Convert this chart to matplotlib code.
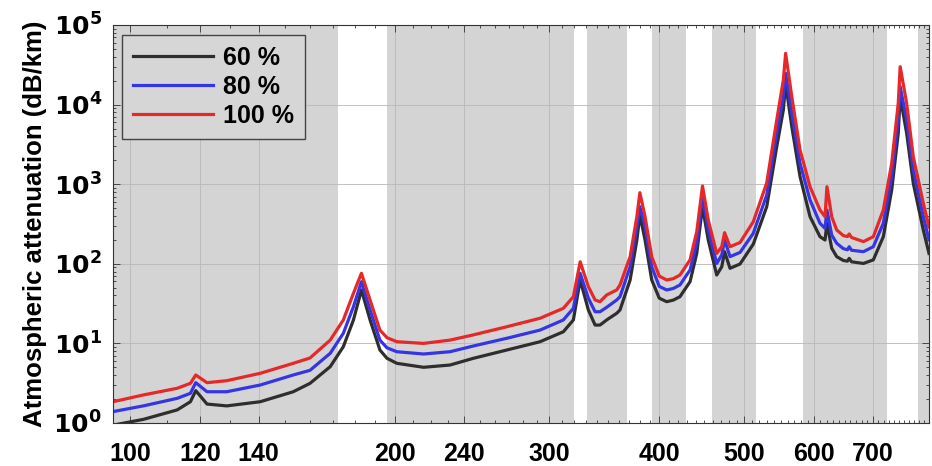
import matplotlib
matplotlib.use('Agg')
import matplotlib.pyplot as plt
from matplotlib.ticker import FixedLocator, NullFormatter, LogLocator

# frequency (GHz)
freq = [95.6, 103.5, 113.1, 117.1, 118.75, 122.3, 128.8, 140.6, 153.3, 160.2,
        168.9, 174.8, 179.5, 183.3, 187.5, 192.4, 196.0, 201.1, 215.7, 231.2, 245.8,
        268.3, 292.7, 311.1, 319.4, 325.15, 332.2, 338.1, 342.5, 348.5, 357.8,
        360.9, 370.6, 377.2, 380.2, 385.4, 392.2, 400.0, 407.9, 415.0, 422.3, 433.6, 441.3,
        448.0, 454.8, 465.0, 471.2, 474.7, 481.5, 494.3, 511.8, 530.1, 544.2,
        553.7, 557.0, 566.1, 578.5, 593.8, 609.5, 617.6, 620.7, 628.5, 636.8,
        648.0, 655.0, 658.0, 662.0, 682.9, 700.9, 719.5, 735.5, 748.2, 752.0,
        764.9, 778.3, 799.0, 811.0]

# attenuation (dB/km) for relative humidity 60 / 80 / 100 %
att_60 = [0.94, 1.11, 1.46, 1.85, 2.55, 1.73, 1.64, 1.85, 2.47, 3.15,
          5.10, 9.09, 19.7, 46.9, 19.7, 8.26, 6.5, 5.62, 5.01, 5.35, 6.50,
          8.26, 10.5, 14.0, 19.7, 62.6, 26.3, 17.0, 17.0, 19.7, 23.9,
          26.3, 62.6, 199, 410, 199, 62.6, 37.0, 33.4, 35.0, 38.6, 59.6, 135,
          522, 199, 72.3, 91.9, 142, 87.8, 99.4, 177, 522, 2958,
          8554, 18520, 5278, 1242, 391, 219, 199, 323, 157, 123,
          110, 108, 117, 106, 101, 112, 219, 846, 4360, 12570,
          4360, 1026, 266, 135]

att_80 = [1.39, 1.64, 2.04, 2.36, 3.21, 2.47, 2.47, 3.00, 4.01, 4.59,
          7.51, 13.4, 28.9, 59.6, 26.3, 11.0, 8.8, 7.86, 7.36, 7.86, 9.28,
          11.6, 14.7, 19.7, 27.6, 76.0, 36.9, 25.0, 25.0, 28.4, 35.1,
          38.6, 91.9, 292, 522, 292, 91.9, 52.0, 46.9, 49.0, 54.2, 83.6, 181,
          697, 266, 101, 129, 199, 123, 139, 242, 732, 4360,
          12570, 24740, 7775, 1831, 633, 323, 279, 474, 230, 181,
          155, 150, 164, 148, 142, 164, 323, 1242, 6404, 16790,
          6404, 1508, 391, 200]

att_100 = [1.85, 2.25, 2.73, 3.15, 4.01, 3.21, 3.40, 4.21, 5.62, 6.56,
           11.0, 19.7, 42.6, 76.0, 35.1, 14.7, 11.8, 10.5, 10.0, 11.0, 12.8,
           16.2, 20.7, 27.6, 38.6, 106, 51.6, 35.1, 33.4, 40.6, 46.9,
           54.2, 123, 391, 782, 391, 123, 70.0, 62.6, 65.0, 72.3, 112, 253,
           949, 355, 135, 164, 246, 164, 185, 338, 1036, 6404,
           20370, 44100, 12570, 2689, 930, 474, 391, 930, 391, 266,
           226, 220, 237, 214, 190, 219, 474, 1831, 10380, 29940,
           10380, 2216, 576, 290]

# shaded windows (GHz)
bands = [(95.6, 172.4), (196.1, 320.0), (331.1, 367.6), (392.6, 429.1),
         (459.3, 515.5), (583.1, 726.3), (788.0, 811.0)]

xticks = [100, 120, 140, 200, 240, 300, 400, 500, 600, 700]

plt.rcParams['font.family'] = ['Liberation Sans', 'DejaVu Sans']
plt.rcParams['font.weight'] = 'bold'

fig = plt.figure(figsize=(9.32, 4.66), dpi=100)
ax = fig.add_axes([113 / 932, 43 / 466, 816 / 932, 398 / 466])

for lo, hi in bands:
    ax.axvspan(lo, hi, color='#d4d4d4', lw=0, zorder=0.5)

ax.plot(freq, att_60, color='#2e2e2e', lw=2.3, label='60 %')
ax.plot(freq, att_80, color='#3535e6', lw=2.3, label='80 %')
ax.plot(freq, att_100, color='#e62828', lw=2.3, label='100 %')

ax.set_xscale('log')
ax.set_yscale('log')
ax.set_xlim(95.6, 811)
ax.set_ylim(1, 1e5)

ax.xaxis.set_major_locator(FixedLocator(xticks))
ax.set_xticklabels([str(t) for t in xticks])
ax.xaxis.set_minor_locator(FixedLocator([f for f in range(110, 811, 10) if f not in xticks]))
ax.xaxis.set_minor_formatter(NullFormatter())

ax.yaxis.set_major_locator(FixedLocator([1, 10, 100, 1e3, 1e4, 1e5]))
ax.set_yticklabels([r'$\mathbf{10^{%d}}$' % k for k in range(6)])
ax.yaxis.set_minor_locator(LogLocator(base=10, subs=range(2, 10)))
ax.yaxis.set_minor_formatter(NullFormatter())

ax.tick_params(which='both', direction='in', top=True, right=True, width=0.6, color='#333333')
ax.tick_params(which='major', length=5, labelsize=18)
ax.tick_params(which='minor', length=2.5)
ax.tick_params(axis='x', pad=14)
ax.tick_params(axis='y', pad=8)

ax.grid(True, which='major', color='#b8b8b8', lw=0.6)
for s in ax.spines.values():
    s.set_linewidth(0.8)
    s.set_color('#333333')

ax.set_ylabel('Atmospheric attenuation (dB/km)', fontsize=18.5, fontweight='bold', labelpad=5)

leg = ax.legend(loc='upper left', bbox_to_anchor=(0.011, 0.975), borderaxespad=0,
                fontsize=18, handlelength=3.2, handletextpad=0.4, labelspacing=0.2,
                borderpad=0.45, fancybox=False, framealpha=1)
leg.get_frame().set_facecolor('#d6d6d6')
leg.get_frame().set_edgecolor('#444444')
leg.get_frame().set_linewidth(1.0)

fig.savefig('out.png', dpi=100)
